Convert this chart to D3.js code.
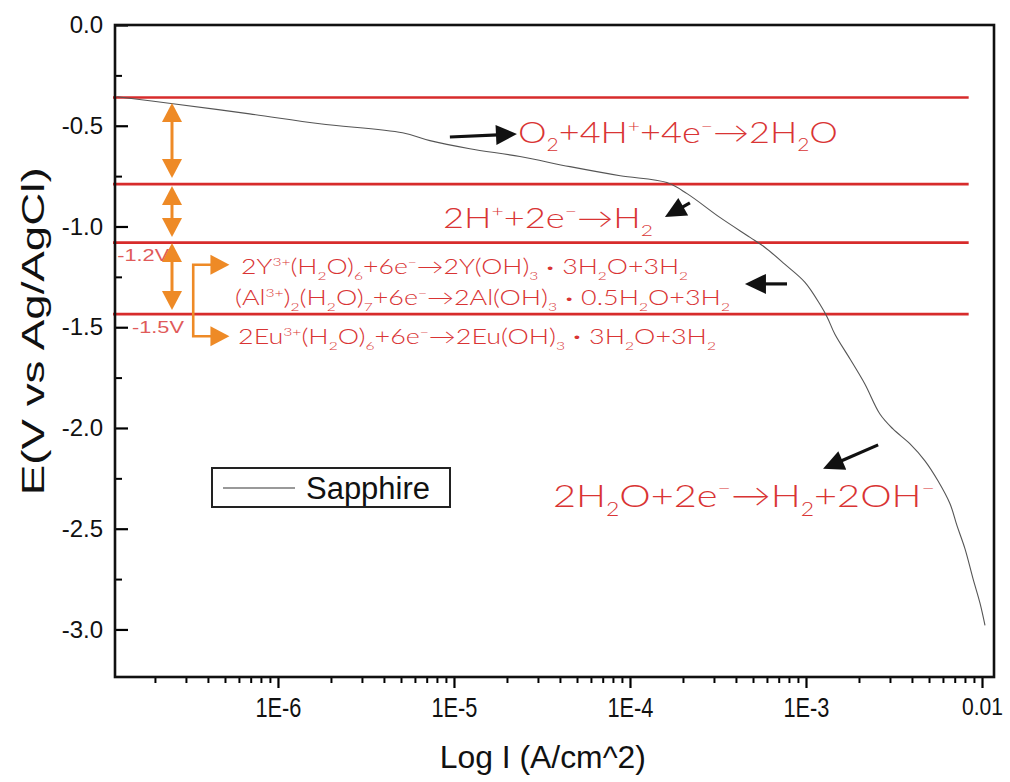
<!DOCTYPE html>
<html>
<head>
<meta charset="utf-8">
<script src="https://cdn.jsdelivr.net/npm/d3@7"></script>
<style>
  body { margin: 0; background: #fff; }
  svg { display: block; }
  .tick text { font-family: "Liberation Sans", Arial, sans-serif; }
</style>
</head>
<body>
<svg id="chart" width="1010" height="782"></svg>
<script>
// Polarization curve (Sapphire)
const currentA = [1.22e-7, 2.53e-7, 6.9e-7, 1.73e-6, 5.1e-6, 7.3e-6, 1.23e-5, 2.37e-5, 4.56e-5, 8.8e-5,
    1.62e-4, 2.11e-4, 3.24e-4, 4.81e-4, 5.85e-4, 7.6e-4, 9.87e-4, 1.20e-3, 1.32e-3, 1.46e-3,
    1.78e-3, 2.16e-3, 2.63e-3, 3.12e-3, 3.90e-3, 4.74e-3, 5.62e-3, 6.58e-3, 7.21e-3, 8.0e-3,
    8.89e-3, 9.75e-3, 1.04e-2];
const potentialV = [-0.356, -0.391, -0.441, -0.490, -0.535, -0.574, -0.614, -0.653, -0.703, -0.748,
    -0.782, -0.837, -0.955, -1.054, -1.104, -1.188, -1.277, -1.386, -1.450, -1.535,
    -1.658, -1.782, -1.931, -2.005, -2.079, -2.163, -2.262, -2.376, -2.485, -2.599,
    -2.748, -2.871, -2.980];

// reduction potential levels (red lines)
const levelsV = [-0.36, -0.79, -1.08, -1.435];

const xTickValues = [1e-6, 1e-5, 1e-4, 1e-3, 1e-2];
const xTickLabels = ["1E-6", "1E-5", "1E-4", "1E-3", "0.01"];
const yTickValues = [0, -0.5, -1.0, -1.5, -2.0, -2.5, -3.0];
const yTickLabels = ["0.0", "-0.5", "-1.0", "-1.5", "-2.0", "-2.5", "-3.0"];

const seriesName = "Sapphire";
const xTitle = "Log I (A/cm^2)";
const yTitle = "E(V vs Ag/AgCl)";

// reaction labels: text, current, potential (baseline), font size, width
// _{..} subscript, ^{..} superscript, ~{..} small glyph
const reactions = [
    { t: "O_{2}+4H^{+}+4e^{−}→2H_{2}O", x: 2.31e-5, y: -0.586, size: 29, len: 320 },
    { t: "2H^{+}+2e^{−}→H_{2}", x: 8.66e-6, y: -1.007, size: 28, len: 210 },
    { t: "2Y^{3+}(H_{2}O)_{6}+6e^{−}→2Y(OH)_{3} ~{•} 3H_{2}O+3H_{2}", x: 6.17e-7, y: -1.236, size: 21, len: 447 },
    { t: "(Al^{3+})_{2}(H_{2}O)_{7}+6e^{−}→2Al(OH)_{3} ~{•} 0.5H_{2}O+3H_{2}", x: 5.70e-7, y: -1.390, size: 21, len: 495 },
    { t: "2Eu^{3+}(H_{2}O)_{6}+6e^{−}→2Eu(OH)_{3} ~{•} 3H_{2}O+3H_{2}", x: 5.93e-7, y: -1.583, size: 21, len: 478 },
    { t: "2H_{2}O+2e^{−}→H_{2}+2OH^{−}", x: 3.65e-5, y: -2.392, size: 32, len: 382 }
];

const voltLabels = [
    { t: "-1.2V", x: 1.22e-7, y: -1.171 },
    { t: "-1.5V", x: 1.48e-7, y: -1.529 }
];

// orange double arrows (current, E top, E bottom)
const spanArrows = [
    { x: 2.5e-7, y0: -0.387, y1: -0.759 },
    { x: 2.5e-7, y0: -0.799, y1: -1.052 },
    { x: 2.5e-7, y0: -1.082, y1: -1.414 }
];
const bracket = { x0: 3.3e-7, x1: 5.3e-7, y0: -1.19, y1: -1.545 };

// black pointer arrows: tail -> tip
const pointers = [
    { x0: 9.48e-6, y0: -0.556, x1: 2.28e-5, y1: -0.541 },
    { x0: 2.19e-4, y0: -0.883, x1: 1.58e-4, y1: -0.953 },
    { x0: 7.8e-4, y0: -1.285, x1: 4.5e-4, y1: -1.285 },
    { x0: 2.57e-3, y0: -2.084, x1: 1.25e-3, y1: -2.203 }
];

const svg = d3.select("#chart"),
    margin = { top: 25, right: 16, bottom: 105, left: 115 },
    width = +svg.attr("width") - margin.left - margin.right,
    height = +svg.attr("height") - margin.top - margin.bottom;

const g = svg.append("g").attr("transform", `translate(${margin.left},${margin.top})`);

const x = d3.scaleLog().domain([1.186e-7, 1.17e-2]).range([0, width]);
const y = d3.scaleLinear().domain([-3.236, 0]).range([height, 0]);

const red = "#d72b2b", textRed = "#d93434", orange = "#ee8a26";

svg.append("defs").append("clipPath").attr("id", "clip")
    .append("rect").attr("width", width).attr("height", height);

// red level lines
g.selectAll("line.level")
    .data(levelsV)
    .enter().append("line")
    .attr("class", "level")
    .attr("x1", -2).attr("x2", x(8.4e-3))
    .attr("y1", d => y(d)).attr("y2", d => y(d))
    .attr("stroke", red).attr("stroke-width", 2.6);

// curve
const curve = currentA.map((c, i) => [c, potentialV[i]]);
g.append("path")
    .datum(curve)
    .attr("clip-path", "url(#clip)")
    .attr("fill", "none")
    .attr("stroke", "#555")
    .attr("stroke-width", 1.1)
    .attr("d", d3.line().curve(d3.curveCatmullRom.alpha(0.5)).x(d => x(d[0])).y(d => y(d[1])));

// X axis (major + minor)
const minor = [];
for (let e = -7; e <= -2; e++) for (let m = 2; m <= 9; m++) {
    const v = m * Math.pow(10, e);
    if (v > x.domain()[0] && v < x.domain()[1]) minor.push(v);
}
g.append("g").attr("transform", `translate(0,${height})`)
    .call(d3.axisBottom(x).tickValues(minor).tickSize(6).tickFormat(""))
    .call(a => a.select(".domain").remove())
    .call(a => a.selectAll("line").attr("stroke-width", 2));
const xAxis = g.append("g").attr("transform", `translate(0,${height})`)
    .call(d3.axisBottom(x).tickValues(xTickValues).tickSize(11).tickPadding(10)
        .tickFormat((d, i) => xTickLabels[i]));
xAxis.select(".domain").remove();
xAxis.selectAll("line").attr("stroke-width", 2.2);
xAxis.selectAll("text").attr("fill", "#111")
    .attr("font-size", (d, i) => i === xTickLabels.length - 1 ? 24 : 27)
    .attr("textLength", (d, i) => i === xTickLabels.length - 1 ? 41 : 46)
    .attr("lengthAdjust", "spacingAndGlyphs");

// Y axis (inward ticks)
const yMinor = d3.range(0, -3.24, -0.25).filter(v => Math.abs(v * 2 - Math.round(v * 2)) > 0.01);
g.append("g")
    .call(d3.axisLeft(y).tickValues(yMinor).tickSize(-7).tickFormat(""))
    .call(a => a.select(".domain").remove())
    .call(a => a.selectAll("line").attr("stroke-width", 2));
const yAxis = g.append("g")
    .call(d3.axisLeft(y).tickValues(yTickValues).tickSize(-13).tickPadding(12)
        .tickFormat((d, i) => yTickLabels[i]));
yAxis.select(".domain").remove();
yAxis.selectAll("line").attr("stroke-width", 2.2);
yAxis.selectAll("text").attr("font-size", 24).attr("fill", "#111");

// frame
g.append("rect")
    .attr("width", width).attr("height", height)
    .attr("fill", "none").attr("stroke", "#111").attr("stroke-width", 2.6);

// axis titles
svg.append("text")
    .attr("x", margin.left + x(3.2e-5)).attr("y", 768)
    .attr("text-anchor", "middle")
    .attr("font-family", "Liberation Sans, Arial, sans-serif")
    .attr("font-size", 31).attr("fill", "#111")
    .attr("textLength", 206).attr("lengthAdjust", "spacingAndGlyphs")
    .text(xTitle);
svg.append("text")
    .attr("transform", `translate(44,${margin.top + y(-1.52)}) rotate(-90)`)
    .attr("text-anchor", "middle")
    .attr("font-family", "Liberation Sans, Arial, sans-serif")
    .attr("font-size", 32).attr("fill", "#111")
    .attr("textLength", 328).attr("lengthAdjust", "spacingAndGlyphs")
    .text(yTitle);

// reaction text with sub/superscripts
function richText(sel, str, size) {
    const parts = str.split(/(_\{[^}]*\}|\^\{[^}]*\}|~\{[^}]*\})/).filter(s => s.length);
    let shift = 0;
    parts.forEach(p => {
        let target = 0, txt = p, fs = size;
        if (p.startsWith("_{")) { target = size * 0.28; txt = p.slice(2, -1); fs = size * 0.58; }
        else if (p.startsWith("^{")) { target = -size * 0.38; txt = p.slice(2, -1); fs = size * 0.58; }
        else if (p.startsWith("~{")) { target = -size * 0.12; txt = p.slice(2, -1); fs = size * 0.6; }
        sel.append("tspan")
            .attr("dy", target - shift)
            .attr("font-size", fs)
            .text(txt);
        shift = target;
    });
}

reactions.forEach(r => {
    const t = g.append("text")
        .attr("x", x(r.x)).attr("y", y(r.y))
        .attr("font-family", "Lato, 'Open Sans', sans-serif")
        .attr("font-weight", 300)
        .attr("fill", textRed)
        .attr("font-size", r.size)
        .attr("textLength", r.len).attr("lengthAdjust", "spacingAndGlyphs");
    richText(t, r.t, r.size);
});

voltLabels.forEach(v => {
    g.append("text")
        .attr("x", x(v.x)).attr("y", y(v.y))
        .attr("font-family", "Liberation Sans, Arial, sans-serif")
        .attr("font-size", 17).attr("fill", "#e05a5a")
        .attr("textLength", 52).attr("lengthAdjust", "spacingAndGlyphs")
        .text(v.t);
});

// arrow helper: line from (ax,ay) to (bx,by) with head at b
function arrow(ax, ay, bx, by, color, w, headLen, headHalf) {
    const dx = bx - ax, dy = by - ay, L = Math.hypot(dx, dy);
    const ux = dx / L, uy = dy / L;
    const baseX = bx - ux * headLen, baseY = by - uy * headLen;
    if (L > headLen && w > 0) {
        g.append("line")
            .attr("x1", ax).attr("y1", ay).attr("x2", baseX + ux * 2).attr("y2", baseY + uy * 2)
            .attr("stroke", color).attr("stroke-width", w);
    }
    g.append("polygon")
        .attr("points", [
            [bx, by],
            [baseX - uy * headHalf, baseY + ux * headHalf],
            [baseX + uy * headHalf, baseY - ux * headHalf]
        ].map(p => p.join(",")).join(" "))
        .attr("fill", color);
}

spanArrows.forEach(a => {
    const px = x(a.x), p0 = y(a.y0), p1 = y(a.y1);
    g.append("line").attr("x1", px).attr("x2", px).attr("y1", p0 + 10).attr("y2", p1 - 10)
        .attr("stroke", orange).attr("stroke-width", 3);
    arrow(px, (p0 + p1) / 2, px, p0, orange, 0, 19, 10);
    arrow(px, (p0 + p1) / 2, px, p1, orange, 0, 19, 10);
});

// bracket to the three rare-earth/Al reactions
{
    const bx = x(bracket.x0), tx = x(bracket.x1), b0 = y(bracket.y0), b1 = y(bracket.y1);
    g.append("polyline")
        .attr("points", `${bx + 18},${b0} ${bx},${b0} ${bx},${b1} ${bx + 18},${b1}`)
        .attr("fill", "none").attr("stroke", orange).attr("stroke-width", 2.6);
    arrow(bx, b0, tx, b0, orange, 0, 19, 10);
    arrow(bx, b1, tx, b1, orange, 0, 19, 10);
}

pointers.forEach(p => {
    arrow(x(p.x0), y(p.y0), x(p.x1), y(p.y1), "#111", 3.2, 21, 10);
});

// legend
const legend = svg.append("g").attr("transform", "translate(212,468)");
legend.append("rect").attr("width", 238).attr("height", 39)
    .attr("fill", "#fff").attr("stroke", "#222").attr("stroke-width", 2);
legend.append("line").attr("x1", 11).attr("x2", 83).attr("y1", 20).attr("y2", 20)
    .attr("stroke", "#777").attr("stroke-width", 1.4);
legend.append("text").attr("x", 94).attr("y", 31)
    .attr("font-family", "Liberation Sans, Arial, sans-serif")
    .attr("font-size", 31).attr("fill", "#111")
    .attr("textLength", 124).attr("lengthAdjust", "spacingAndGlyphs")
    .text(seriesName);
</script>
</body>
</html>
